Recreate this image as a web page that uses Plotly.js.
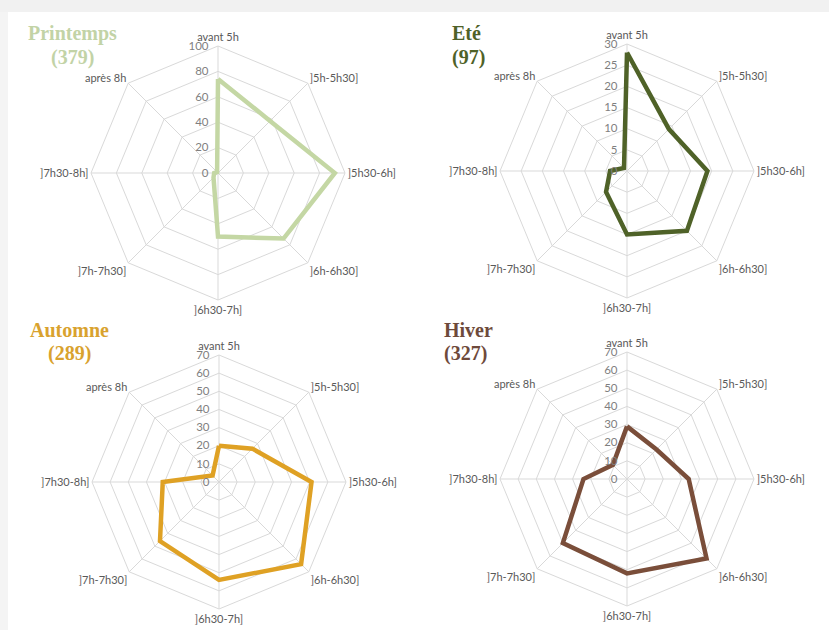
<!DOCTYPE html>
<html>
<head>
<meta charset="utf-8">
<script src="https://cdn.plot.ly/plotly-3.0.1.min.js"></script>
<style>html,body{margin:0;padding:0;background:#fff;}#chart{width:829px;height:630px;}</style>
</head>
<body>
<div id="chart"></div>
<script>
const categories = ['avant 5h', ']5h-5h30]', ']5h30-6h]', ']6h-6h30]', ']6h30-7h]', ']7h-7h30]', ']7h30-8h]', 'après 8h'];
const printemps = [74, 58, 92, 73, 50, 5, 3, 1];
const ete = [28, 14, 19, 20, 15, 7, 4, 1];
const automne = [20, 26, 51, 64, 54, 46, 31, 5];
const hiver = [29, 23, 34, 62, 52, 50, 24, 11];
const seasonNames = ['Printemps', 'Eté', 'Automne', 'Hiver'];
const seasonCounts = ['(379)', '(97)', '(289)', '(327)'];
const radialMax = [100, 30, 70, 70];
const radialStep = [20, 5, 10, 10];

const W = 829, H = 630;
const series = [printemps, ete, automne, hiver];
const colors = ['#c4d7a4', '#4f6228', '#dfa124', '#7a4e3a'];
const titleColors = ['#c2d3a6', '#4f6228', '#d9a22e', '#6e4a3b'];
const centers = [[218, 173], [627, 171], [219, 482], [627, 479]];
const R = 127;

function close(a) { return a.concat([a[0]]); }

const data = [];
const layout = {
  width: W, height: H,
  margin: {l: 0, r: 0, t: 0, b: 0},
  paper_bgcolor: '#ffffff',
  showlegend: false,
  font: {family: 'Lato, "Open Sans", sans-serif', color: '#595959'},
  annotations: [],
  shapes: [
    {type: 'rect', xref: 'paper', yref: 'paper', x0: 0, x1: 1, y0: 1 - 12 / H, y1: 1, fillcolor: '#f1f1f1', line: {width: 0}, layer: 'below'},
    {type: 'rect', xref: 'paper', yref: 'paper', x0: 0, x1: 8 / W, y0: 0, y1: 1 - 12 / H, fillcolor: '#f4f4f4', line: {width: 0}, layer: 'below'}
  ]
};

series.forEach((vals, i) => {
  const key = i === 0 ? 'polar' : 'polar' + (i + 1);
  data.push({
    type: 'scatterpolar',
    r: close(vals),
    theta: close(categories),
    mode: 'lines',
    line: {color: colors[i], width: 4.5},
    subplot: key,
    hoverinfo: 'skip'
  });
  const [cx, cy] = centers[i];
  const tv = [];
  for (let v = 0; v <= radialMax[i]; v += radialStep[i]) tv.push(v);
  layout[key] = {
    domain: {x: [(cx - R) / W, (cx + R) / W], y: [1 - (cy + R) / H, 1 - (cy - R) / H]},
    bgcolor: 'rgba(0,0,0,0)',
    gridshape: 'linear',
    angularaxis: {
      direction: 'clockwise', rotation: 90,
      categoryorder: 'array', categoryarray: categories,
      showline: true, linecolor: '#d9d9d9', linewidth: 1,
      gridcolor: '#d9d9d9', gridwidth: 1,
      ticks: '', tickfont: {size: 11, color: '#595959', family: 'Lato, sans-serif'}
    },
    radialaxis: {
      range: [0, radialMax[i]], tickvals: tv, angle: 90, tickangle: 90,
      side: 'counterclockwise',
      showline: false, ticks: 'outside', ticklen: 5, tickcolor: 'rgba(0,0,0,0)',
      gridcolor: '#d9d9d9', gridwidth: 1,
      tickfont: {size: 11.5, color: '#7f7f7f', family: 'Lato, sans-serif'}
    }
  };
});

const titlePos = [
  {x: 72, y1: 33, y2: 57, anchor: 'center'},
  {x: 450, y1: 33, y2: 57, anchor: 'left'},
  {x: 69, y1: 330, y2: 353, anchor: 'center'},
  {x: 442, y1: 330, y2: 353, anchor: 'left'}
];
titlePos.forEach((p, i) => {
  [[seasonNames[i], p.y1], [seasonCounts[i], p.y2]].forEach(([txt, y]) => {
    layout.annotations.push({
      xref: 'paper', yref: 'paper', x: p.x / W, y: 1 - y / H,
      xanchor: p.anchor, yanchor: 'middle', showarrow: false,
      text: '<b>' + txt + '</b>',
      font: {family: '"Liberation Serif", "DejaVu Serif", serif', size: 20, color: titleColors[i]}
    });
  });
});

Plotly.newPlot('chart', data, layout, {displayModeBar: false, staticPlot: true});
</script>
</body>
</html>
